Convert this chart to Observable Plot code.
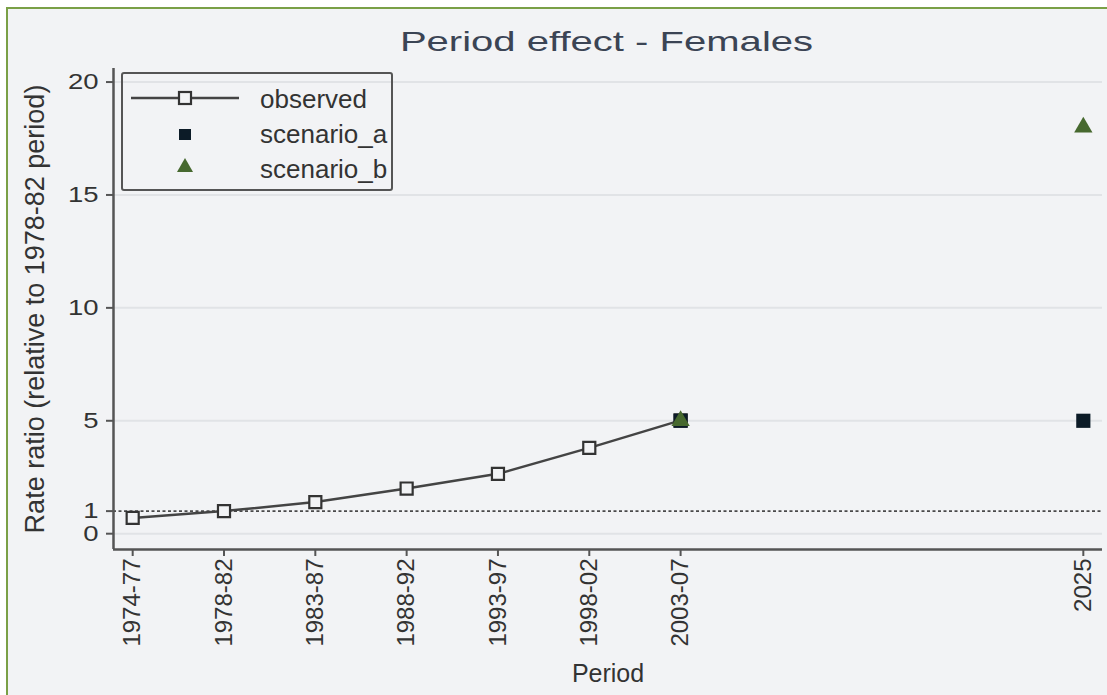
<!DOCTYPE html>
<html><head><meta charset="utf-8">
<script src="https://cdn.jsdelivr.net/npm/d3@7"></script>
<script src="https://cdn.jsdelivr.net/npm/@observablehq/plot@0.6"></script>
<style>
html,body{margin:0;padding:0;background:#fff;width:1107px;height:695px;overflow:hidden;}
#frame{position:absolute;left:6px;top:7px;width:1101px;height:688px;background:#f2f3f5;border-top:2px solid #7aa046;border-left:2px solid #7aa046;box-sizing:border-box;}
#chart{position:absolute;left:0;top:0;}
#title{position:absolute;top:26px;left:0;width:1213px;text-align:center;font:28px "Liberation Sans",Arial,sans-serif;color:#3b4454;white-space:nowrap;}
#title span{display:inline-block;transform:scaleX(1.43);}
#legend{position:absolute;left:121px;top:72px;width:272px;height:119px;border:2px solid #555;border-radius:3px;box-sizing:border-box;}
</style></head><body>
<div id="frame"></div>
<div id="chart"></div>
<div id="title"><span>Period effect - Females</span></div>
<div id="legend"></div>
<script>
// ---- data ----
const periods   = ["1974-77","1978-82","1983-87","1988-92","1993-97","1998-02","2003-07","2025"];
const periodPos = [1, 2, 3, 4, 5, 6, 7, 11.41];
const observed  = [0.70, 1.00, 1.40, 2.00, 2.65, 3.80, 5.02, null];
const scenarioA = [null, null, null, null, null, null, 5.0, 5.0];
const scenarioB = [null, null, null, null, null, null, 5.0, 18.0];
const yTicks    = [0, 1, 5, 10, 15, 20];
const gridValues = [0, 5, 10, 15, 20];
const referenceValue = [1];
const seriesNames = ["observed", "scenario_a", "scenario_b"];
const yLabel = "Rate ratio (relative to 1978-82 period)";
const xLabel = "Period";
const xDomain = [0.79, 11.62];
const yDomain = [-0.7, 20.6];

const toRows = (vals) => periods.map((p, i) => ({period: p, x: periodPos[i], y: vals[i]})).filter(d => d.y != null);
const obsData = toRows(observed);
const aData = toRows(scenarioA);
const bData = toRows(scenarioB);

const font = '"Liberation Sans", Arial, sans-serif';
const bg = "#f2f3f5";

const plot = Plot.plot({
  width: 1107, height: 695,
  marginLeft: 113, marginRight: 5, marginTop: 68, marginBottom: 146,
  style: {background: "transparent", fontFamily: font, color: "#333", overflow: "visible"},
  x: {domain: xDomain},
  y: {domain: yDomain},
  marks: [
    Plot.ruleY(gridValues, {stroke: "#e1e3e6", strokeWidth: 2}),
    Plot.ruleY(referenceValue, {stroke: "#4a4a4a", strokeWidth: 1.8, strokeDasharray: "3,2.5"}),
    Plot.ruleX([xDomain[0]], {stroke: "#555", strokeWidth: 2.5}),
    Plot.ruleY([yDomain[0]], {stroke: "#555", strokeWidth: 2.5}),
    Plot.axisY(yTicks, {tickSize: 7, tickPadding: 8, fontSize: 22, stroke: "#555", strokeWidth: 2, fill: "#333", label: null}),
    Plot.axisX(periodPos, {tickSize: 7, tickPadding: 2, tickRotate: -90, fontSize: 24, stroke: "#555", strokeWidth: 2, fill: "#333", label: null,
      tickFormat: (d) => periods[periodPos.indexOf(d)]}),
    Plot.text([yLabel], {frameAnchor: "left", rotate: -90, dx: -78, fontSize: 27, fill: "#333", textAnchor: "middle", lineAnchor: "middle"}),
    Plot.text([xLabel], {frameAnchor: "bottom", dy: 124, fontSize: 25, fill: "#333", textAnchor: "middle", lineAnchor: "middle"}),
    Plot.line(obsData, {x: "x", y: "y", stroke: "#444", strokeWidth: 2.5}),
    Plot.dot(obsData, {x: "x", y: "y", symbol: "square", r: 6.8, fill: bg, stroke: "#333", strokeWidth: 2.2}),
    Plot.dot(aData, {x: "x", y: "y", symbol: "square", r: 8, fill: "#0c1b27"}),
    Plot.dot(bData, {x: "x", y: "y", symbol: "triangle", r: 6.8, fill: "#47692f"})
  ]
});
document.getElementById("chart").appendChild(plot);

// enforce tick label sizes and stretch y tick labels horizontally like the reference
plot.querySelectorAll('g[aria-label="x-axis tick label"]').forEach(g => { g.setAttribute("font-size", 24); g.style.fontSize = "24px"; });
plot.querySelectorAll('g[aria-label="y-axis tick label"]').forEach(g => { g.setAttribute("font-size", 22); g.style.fontSize = "22px"; });
plot.querySelectorAll('g[aria-label="y-axis tick label"] text').forEach(t => {
  const tr = t.getAttribute("transform");
  if (tr && tr.includes("translate")) t.setAttribute("transform", tr + " scale(1.25,1)");
});

// legend
const lg = d3.select("#legend").append("svg").attr("width", 268).attr("height", 115).style("display", "block");
lg.append("line").attr("x1", 8).attr("x2", 116).attr("y1", 24).attr("y2", 24).attr("stroke", "#444").attr("stroke-width", 2.5);
lg.append("rect").attr("x", 56).attr("y", 18).attr("width", 12).attr("height", 12).attr("fill", bg).attr("stroke", "#333").attr("stroke-width", 2.2);
lg.append("rect").attr("x", 56).attr("y", 55).attr("width", 12).attr("height", 11).attr("fill", "#0c1b27");
lg.append("path").attr("d", "M62,84 L70,98 L54,98 Z").attr("fill", "#47692f");
const rowsY = [34, 69, 104];
seriesNames.forEach((s, i) => {
  lg.append("text").attr("x", 137).attr("y", rowsY[i]).text(s)
    .attr("font-family", font).attr("font-size", 26).attr("fill", "#333");
});
</script>
</body></html>
